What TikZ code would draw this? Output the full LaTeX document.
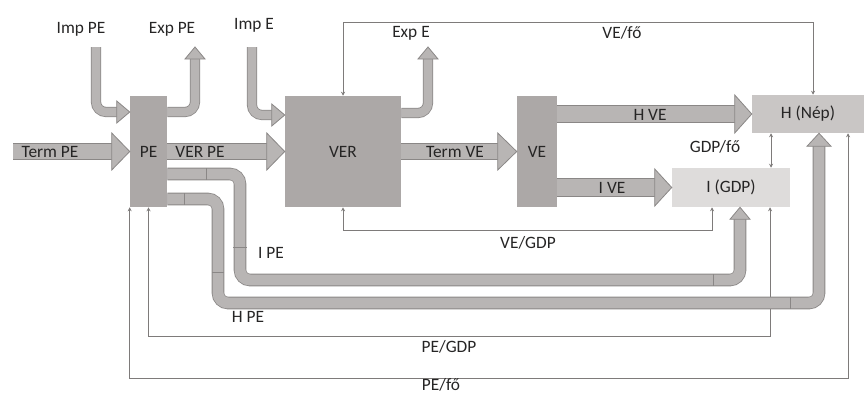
\documentclass[tikz,border=0pt]{standalone}
\usepackage{fontspec}
\setmainfont{Carlito}
\usetikzlibrary{arrows.meta}
\newdimen\pxu \pxu=0.75pt
\definecolor{boxgray}{HTML}{ACA8A7}
\definecolor{hgray}{HTML}{C9C6C5}
\definecolor{igray}{HTML}{DEDCDB}
\definecolor{pipefill}{HTML}{B8B5B4}
\definecolor{pipeedge}{HTML}{8A8786}
\definecolor{fbline}{HTML}{7E7B7A}
\definecolor{txt}{HTML}{262525}
\tikzset{
  box/.style={fill=boxgray, inner sep=0pt, text=txt},
  lbl/.style={text=txt, inner sep=1pt},
  fb/.style={draw=fbline, line width=0.7pt,
    {Stealth[length=3pt,width=3pt]}-{Stealth[length=3pt,width=3pt]}},
  pipe/.style={draw=pipeedge, line width=0.6pt, double=pipefill,
    double distance=#1, rounded corners=7.5pt},
  tick/.style={draw=pipeedge, line width=0.6pt},
  pics/head/.style 2 args={code={
    \filldraw[fill=pipefill, draw=pipeedge, line width=0.6pt]
      (0,0) -- (-#2,#1) -- (-#2,-#1) -- cycle;}},
}
\begin{document}
\begin{tikzpicture}[x=0.75pt, y=-0.75pt, font=\fontsize{13}{15}\selectfont]
  \useasboundingbox (0,0) rectangle (866,394);
  % sectors
  \node[box, minimum width=37\pxu, minimum height=111\pxu] (pe) at (148.5,151.5) {PE};
  \node[box, minimum width=116\pxu, minimum height=111\pxu] (ver) at (343,151.5) {VER};
  \node[box, minimum width=40\pxu, minimum height=111\pxu] (ve) at (537,151.5) {VE};
  \node[box, fill=hgray, minimum width=112\pxu, minimum height=38\pxu] (h) at (808,114) {H (Nép)};
  \node[box, fill=igray, minimum width=118\pxu, minimum height=39\pxu] (i) at (731,187.5) {I (GDP)};

  % thin ratio lines
  \draw[fb] (h.north -| 813,0) -- (813,22) -| (ver.north);
  \draw[fb] (ver.south) |- (712,230) -- (i.south -| 712,0);
  \draw[fb] (pe.south) |- (770,336) -- (i.south -| 770,0);
  \draw[fb] (pe.south west) |- (848,378) -- (h.south -| 848,0);
  \draw[fb] (h.south -| 771,0) -- (i.north -| 771,0);

  % wide flows
  \draw[pipe=11.6pt] (13,151.5) -- ([xshift=-13.5pt]pe.west);
  \pic at (pe.west) {head={18.5}{18}};
  \draw[pipe=11.6pt] (pe.east) -- ([xshift=-13.5pt]ver.west);
  \pic at (ver.west) {head={18.5}{18}};
  \draw[pipe=11.6pt] (ver.east) -- ([xshift=-14.2pt]ve.west);
  \pic at (ve.west) {head={18.5}{19}};
  \draw[pipe=12.4pt] (ve.east |- h.west) -- ([xshift=-12.7pt]h.west);
  \pic at (h.west) {head={19}{17}};
  \draw[pipe=12.4pt] (ve.east |- i.west) -- ([xshift=-12.7pt]i.west);
  \pic at (i.west) {head={18.5}{17}};

  % imports and exports
  \draw[pipe=6.4pt] (96,47) -- (96,112) -- (117,112);
  \pic at (pe.west |- 0,112) {head={11}{13}};
  \draw[pipe=6.4pt] (pe.east |- 0,112) -- (195,112) -- (195,59);
  \pic[rotate=90] at (195,47) {head={10}{12}};
  \draw[pipe=6.4pt] (252,47) -- (252,115) -- (272,115);
  \pic at (ver.west |- 0,115) {head={11}{13}};
  \draw[pipe=6.4pt] (ver.east |- 0,113) -- (428,113) -- (428,59);
  \pic[rotate=90] at (428,47) {head={10}{12}};

  % PE to I and H
  \draw[pipe=8.2pt] (pe.east |- 0,174) -- (240,174) -- (240,280) -- (740,280) -- (740,219);
  \pic[rotate=90] at (i.south -| 740,0) {head={10}{12}};
  \draw[pipe=8.2pt] (pe.east |- 0,199) -- (218,199) -- (218,303) -- (819,303) -- (819,146);
  \pic[rotate=90] at (h.south -| 819,0) {head={12}{13}};
  \draw[tick] (206,168) -- (206,180) (233,247) -- (247,247) (713,274) -- (713,286);
  \draw[tick] (184,193) -- (184,205) (212,272) -- (224,272) (790,297) -- (790,309);

  % labels
  \node[lbl] (lImpPE) at (81,29) {Imp PE};
  \node[lbl] (lExpPE) at (172,29) {Exp PE};
  \node[lbl] (lImpE) at (254,25) {Imp E};
  \node[lbl] (lExpE) at (411,33) {Exp E};
  \node[lbl] (lVEfo) at (622,33) {VE/fő};
  \node[lbl] (lTermPE) at (50,152) {Term PE};
  \node[lbl] (lVERPE) at (200,152) {VER PE};
  \node[lbl] (lTermVE) at (455,152) {Term VE};
  \node[lbl] (lHVE) at (650,115) {H VE};
  \node[lbl] (lGDPfo) at (715,147) {GDP/fő};
  \node[lbl] (lIVE) at (612,188) {I VE};
  \node[lbl] (lIPE) at (271,253) {I PE};
  \node[lbl] (lHPE) at (248,317) {H PE};
  \node[lbl] (lVEGDP) at (528,243) {VE/GDP};
  \node[lbl] (lPEGDP) at (449,347) {PE/GDP};
  \node[lbl] (lPEfo) at (441,385) {PE/fő};
\end{tikzpicture}
\end{document}
